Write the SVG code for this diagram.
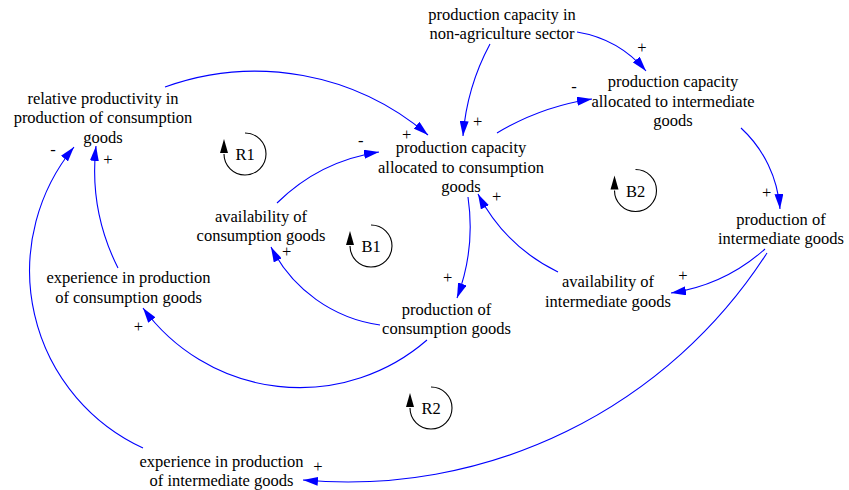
<svg xmlns="http://www.w3.org/2000/svg" width="849" height="490" viewBox="0 0 849 490">
<style>
.t{font-family:"Liberation Serif","Times New Roman",serif;font-size:16.5px;fill:#000;text-anchor:middle}
.c{fill:none;stroke:#0000ff;stroke-width:1.1;marker-end:url(#ah)}
.loop path.a{fill:none;stroke:#000;stroke-width:1.1}
.loop polygon{fill:#000}
</style>
<defs>
<marker id="ah" markerUnits="userSpaceOnUse" markerWidth="15" markerHeight="9" refX="15" refY="4.5" orient="auto" viewBox="0 0 15 9">
<path d="M0,0 L15,4.5 L0,9 Z" fill="#0000ff"/>
</marker>
</defs>
<rect width="849" height="490" fill="#fff"/>
<g id="connectors">
<path class="c" d="M165,87 A266,266 0 0 1 428,135"/>
<path class="c" d="M490,44 A232,232 0 0 0 463,136"/>
<path class="c" d="M577,32 A115,115 0 0 1 646,71"/>
<path class="c" d="M497,133 A257,257 0 0 1 592,99"/>
<path class="c" d="M741,128 A122,122 0 0 1 780,209"/>
<path class="c" d="M765,249 A181,181 0 0 1 671,293"/>
<path class="c" d="M767,253 A498,498 0 0 1 303,480"/>
<path class="c" d="M558,272 A178,178 0 0 1 478,194"/>
<path class="c" d="M468,197 A202,202 0 0 1 457,298"/>
<path class="c" d="M380,325 A145,145 0 0 1 271,247"/>
<path class="c" d="M277,203 A185,185 0 0 1 379,152"/>
<path class="c" d="M427,340 A194,194 0 0 1 143,308"/>
<path class="c" d="M118,268 A218,218 0 0 1 96,146"/>
<path class="c" d="M143,448 A195,195 0 0 1 74,147"/>
</g>
<g id="polarities" class="t">
<text x="53" y="154.7">-</text>
<text x="108" y="165">+</text>
<text x="406.7" y="140">+</text>
<text x="477.7" y="126.5">+</text>
<text x="360.7" y="145.7">-</text>
<text x="642" y="53">+</text>
<text x="574" y="92.4">-</text>
<text x="766.7" y="198">+</text>
<text x="683" y="281">+</text>
<text x="496.7" y="202">+</text>
<text x="447.7" y="283">+</text>
<text x="286.7" y="257">+</text>
<text x="138.3" y="331.5">+</text>
<text x="318" y="472">+</text>
</g>
<g id="n1"><text class="t" x="103" y="103.5"><tspan x="103">relative productivity in</tspan><tspan x="103" dy="19.5">production of consumption</tspan><tspan x="103" dy="19.5">goods</tspan></text></g>
<g id="n2"><text class="t" x="502" y="19.5"><tspan x="502">production capacity in</tspan><tspan x="502" dy="19.5">non-agriculture sector</tspan></text></g>
<g id="n3"><text class="t" x="461" y="153"><tspan x="461">production capacity</tspan><tspan x="461" dy="19.5">allocated to consumption</tspan><tspan x="461" dy="19.5">goods</tspan></text></g>
<g id="n4"><text class="t" x="673" y="87"><tspan x="673">production capacity</tspan><tspan x="673" dy="19.5">allocated to intermediate</tspan><tspan x="673" dy="19.5">goods</tspan></text></g>
<g id="n5"><text class="t" x="781" y="225"><tspan x="781">production of</tspan><tspan x="781" dy="19">intermediate goods</tspan></text></g>
<g id="n6"><text class="t" x="608" y="287"><tspan x="608">availability of</tspan><tspan x="608" dy="19.5">intermediate goods</tspan></text></g>
<g id="n7"><text class="t" x="446.5" y="314.5"><tspan x="446.5">production of</tspan><tspan x="446.5" dy="19.5">consumption goods</tspan></text></g>
<g id="n8"><text class="t" x="261" y="221.5"><tspan x="261">availability of</tspan><tspan x="261" dy="19.5">consumption goods</tspan></text></g>
<g id="n9"><text class="t" x="128.5" y="283"><tspan x="128.5">experience in production</tspan><tspan x="128.5" dy="19.5">of consumption goods</tspan></text></g>
<g id="n10"><text class="t" x="221.5" y="466.5"><tspan x="221.5">experience in production</tspan><tspan x="221.5" dy="19">of intermediate goods</tspan></text></g>
<g id="loopR1" class="loop" transform="translate(245,154)"><path class="a" d="M0,-21 A21,21 0 1 1 -21,0"/><polygon points="-21,-15 -25,-1 -17,-1"/><text class="t" x="0" y="6">R1</text></g>
<g id="loopB1" class="loop" transform="translate(371,246)"><path class="a" d="M0,-21 A21,21 0 1 1 -21,0"/><polygon points="-21,-15 -25,-1 -17,-1"/><text class="t" x="0" y="6">B1</text></g>
<g id="loopB2" class="loop" transform="translate(635.5,190.5)"><path class="a" d="M0,-21 A21,21 0 1 1 -21,0"/><polygon points="-21,-15 -25,-1 -17,-1"/><text class="t" x="0" y="6">B2</text></g>
<g id="loopR2" class="loop" transform="translate(431,408)"><path class="a" d="M0,-21 A21,21 0 1 1 -21,0"/><polygon points="-21,-15 -25,-1 -17,-1"/><text class="t" x="0" y="6">R2</text></g>
</svg>
